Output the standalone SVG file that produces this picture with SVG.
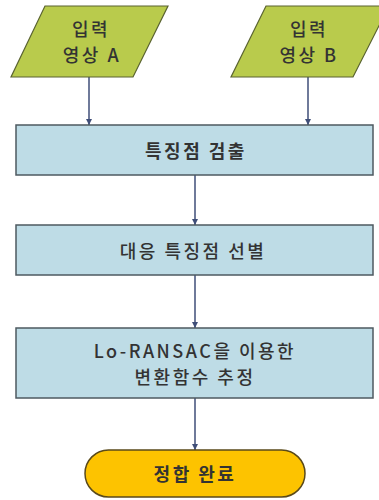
<svg xmlns="http://www.w3.org/2000/svg" width="379" height="500" viewBox="0 0 379 500">
<defs>
<style>
.io{fill:#B9CB4C;stroke:#5a6330;stroke-width:1.2}
.proc{fill:#BEDCE6;stroke:#4e5a60;stroke-width:1.5}
.term{fill:#FDC300;stroke:#5a4a1a;stroke-width:1.5}
.t{font-family:"Noto Sans CJK KR","Liberation Sans",sans-serif;fill:#333333;text-anchor:middle;dominant-baseline:central;font-size:18px;letter-spacing:2.5px;font-weight:500}
.b{font-weight:bold}
.edge{stroke:#3f4e78;stroke-width:1.5;fill:none;marker-end:url(#ah)}
</style>
<marker id="ah" viewBox="0 0 10 10" refX="10" refY="5" markerWidth="6" markerHeight="6" orient="auto" markerUnits="userSpaceOnUse">
<path d="M0,0 L10,5 L0,10 z" fill="#3f4e78"/>
</marker>
</defs>
<rect width="379" height="500" fill="#ffffff"/>
<g id="connectors">
<line class="edge" x1="89" y1="77" x2="89" y2="125"/>
<line class="edge" x1="308" y1="77" x2="308" y2="125"/>
<line class="edge" x1="195" y1="175" x2="195" y2="225"/>
<line class="edge" x1="195" y1="275" x2="195" y2="328"/>
<line class="edge" x1="195" y1="398" x2="195" y2="450"/>
</g>
<g id="inputA">
<polygon class="io" points="45,6 168,6 133,77 11,77"/>
<text class="t" x="91" y="28">입력</text>
<text class="t" x="92" y="54">영상 A</text>
</g>
<g id="inputB">
<polygon class="io" points="266,6 389,6 353,77 231,77"/>
<text class="t" x="309" y="28">입력</text>
<text class="t" x="309" y="54">영상 B</text>
</g>
<g id="detect">
<rect class="proc" x="16" y="125" width="357" height="50"/>
<text class="t b" x="196" y="150">특징점 검출</text>
</g>
<g id="match">
<rect class="proc" x="16" y="225" width="357" height="50"/>
<text class="t" x="193" y="250">대응 특징점 선별</text>
</g>
<g id="estimate">
<rect class="proc" x="16" y="328" width="357" height="70"/>
<text class="t" x="195" y="350">Lo-RANSAC을 이용한</text>
<text class="t" x="195" y="376">변환함수 추정</text>
</g>
<g id="done">
<rect class="term" x="85" y="450" width="220" height="47" rx="23.5" ry="23.5"/>
<text class="t b" x="195" y="473">정합 완료</text>
</g>
</svg>
